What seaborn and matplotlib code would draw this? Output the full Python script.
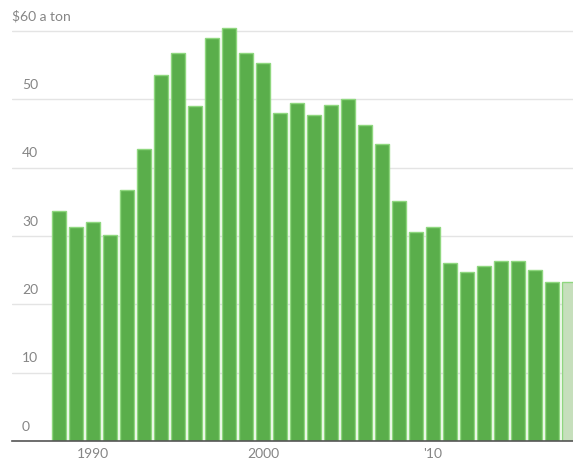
import matplotlib
matplotlib.use("Agg")
import matplotlib.pyplot as plt
import matplotlib.transforms as mtransforms
import seaborn as sns
import pandas as pd

years = list(range(1988, 2019))
prices = [33.7, 31.3, 32.1, 30.2, 36.7, 42.7, 53.6, 56.8, 49.0, 58.9, 60.5,
          56.7, 55.3, 48.0, 49.5, 47.7, 49.2, 50.1, 46.3, 43.5, 35.1, 30.6,
          31.3, 26.1, 24.7, 25.6, 26.3, 26.3, 25.0, 23.3, 23.3]
status = ["actual"] * 30 + ["estimate"]
ytick_values = [0, 10, 20, 30, 40, 50, 60]
ytick_labels = ["0", "10", "20", "30", "40", "50", "$60 a ton"]
xtick_years = [1990, 2000, 2010]
xtick_labels = ["1990", "2000", "'10"]

df = pd.DataFrame({"year": years, "price": prices, "status": status})

sns.set_theme(style="white")
plt.rcParams["font.family"] = ["Lato", "DejaVu Sans"]

fig = plt.figure(figsize=(5.73, 4.75), dpi=100)
ax = fig.add_axes([12 / 573, 1 - 441 / 475, 1 - 12 / 573, 421 / 475])

sns.barplot(data=df, x="year", y="price", hue="status", dodge=False,
            palette={"actual": "#5aae4b", "estimate": "#c6dfbc"},
            saturation=1, width=0.86, edgecolor="#8fd77f", linewidth=1.0,
            legend=False, ax=ax, zorder=2)

ax.set_ylim(0, 61.6)
ax.set_xlim(-2.76, 30.24)

ax.set_yticks(ytick_values)
ax.set_yticklabels([])
ax.tick_params(axis="y", length=0)
ax.yaxis.grid(True, color="#e4e4e4", linewidth=1.0, zorder=0)
ax.set_axisbelow(True)

trans = mtransforms.blended_transform_factory(ax.transAxes, ax.transData)
for v, lab in zip(ytick_values, ytick_labels):
    xpos = 0.0 if lab.startswith("$") else 10 / 561
    ax.text(xpos, v + 1.2, lab, transform=trans, ha="left", va="bottom",
            fontsize=10, color="#858585")

xpos_idx = [years.index(y) for y in xtick_years]
ax.set_xticks(xpos_idx)
ax.set_xticklabels(xtick_labels, fontsize=10, color="#858585")
ax.tick_params(axis="x", length=4, width=1, color="#555555", direction="inout", pad=3)

for s in ["top", "right", "left"]:
    ax.spines[s].set_visible(False)
ax.spines["bottom"].set_color("#555555")
ax.spines["bottom"].set_linewidth(1.2)
ax.set_xlabel("")
ax.set_ylabel("")

fig.savefig("out.png", dpi=100)
